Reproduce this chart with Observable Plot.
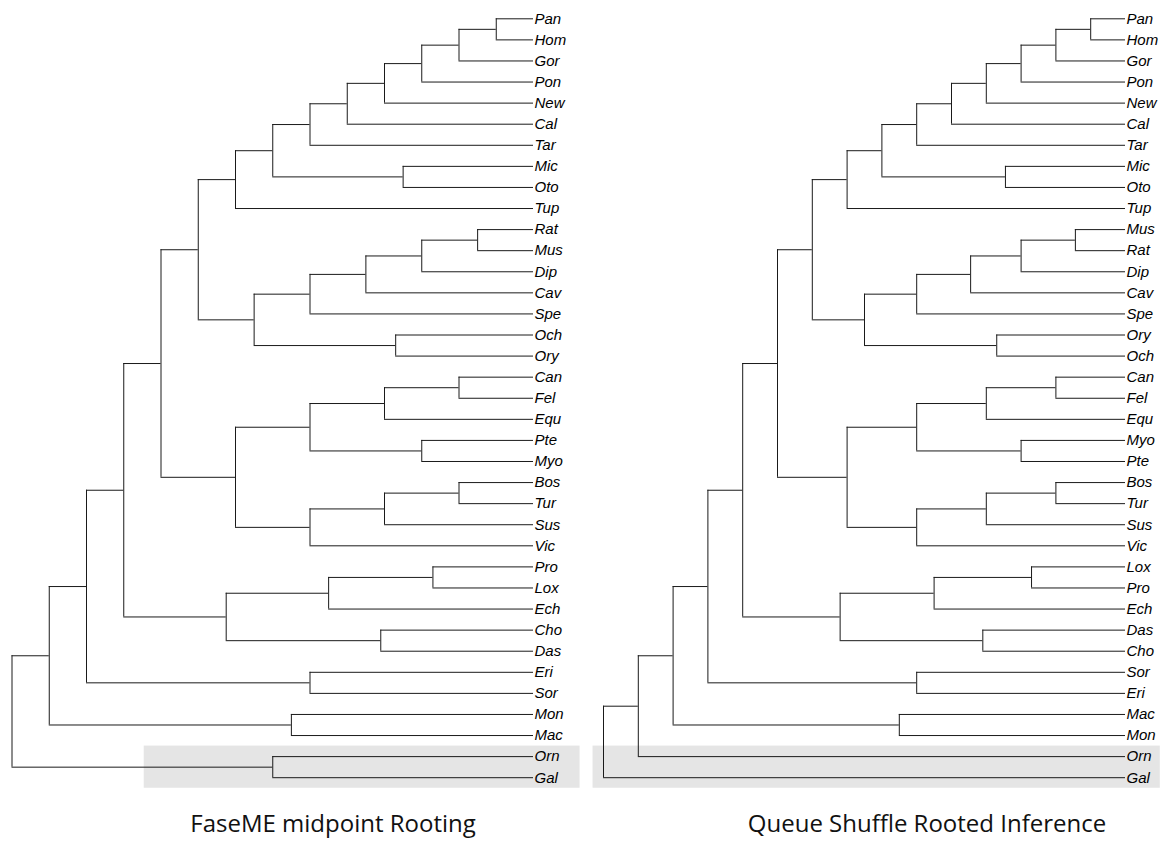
<!DOCTYPE html>
<html><head><meta charset="utf-8">
<script src="https://cdn.jsdelivr.net/npm/d3@7"></script>
<script src="https://cdn.jsdelivr.net/npm/@observablehq/plot@0.6"></script>
<style>
body{margin:0;background:#fff;}
#wrap{position:relative;width:1164px;height:843px;overflow:hidden;}
.panel{position:absolute;top:0;}
.title{position:absolute;font-family:"Open Sans",sans-serif;font-size:24px;line-height:24px;color:#111;white-space:nowrap;transform:translateX(-50%);}
</style></head><body><div id="wrap"></div>
<script>
// Trees in Newick form; the number after ":" is the node's depth (level from the root).
const leftTree = "((((((((((((((((Pan,Hom):13,Gor):12,Pon):11,New):10,Cal):9,Tar):8,(Mic,Oto):10.5):7,Tup):6,(((((Rat,Mus):12.5,Dip):11,Cav):9.5,Spe):8,(Och,Ory):10.3):6.5):5,((((Can,Fel):12,Equ):10,(Pte,Myo):11):8,(((Bos,Tur):12,Sus):10,Vic):8):6):4,(((Pro,Lox):11.3,Ech):8.5,(Cho,Das):9.9):5.75):3,(Eri,Sor):8):2,(Mon,Mac):7.5):1,(Orn,Gal):7):0";
const rightTree = "(((((((((((((((((Pan,Hom):14,Gor):13,Pon):12,New):11,Cal):10,Tar):9,(Mic,Oto):11.55):8,Tup):7,(((((Mus,Rat):13.56,Dip):12,Cav):10.55,Spe):9,(Ory,Och):11.3):7.5):6,((((Can,Fel):13,Equ):11,(Myo,Pte):12):9,(((Bos,Tur):13,Sus):11,Vic):9):7):5,(((Lox,Pro):12.3,Ech):9.5,(Das,Cho):10.9):6.8):4,(Sor,Eri):9):3,(Mac,Mon):8.5):2,Orn):1,Gal):0";
const tipDepths = [14, 15];
const titles = ["FaseME midpoint Rooting", "Queue Shuffle Rooted Inference"];
const highlightTips = ["Orn", "Gal"];
const highlightDepthSpan = [[3.55, 15.25], [-0.3, 16.0]];

function parseNewick(s) {
  let i = 0;
  function node() {
    const n = {};
    if (s[i] === "(") {
      i++;
      n.children = [node()];
      while (s[i] === ",") { i++; n.children.push(node()); }
      i++;
    } else {
      const st = i;
      while (i < s.length && !",):;".includes(s[i])) i++;
      n.name = s.slice(st, i);
    }
    if (s[i] === ":") {
      i++;
      const st = i;
      while (i < s.length && !",);".includes(s[i])) i++;
      n.depth = +s.slice(st, i);
    }
    return n;
  }
  return node();
}

function layout(newick, tipDepth) {
  const root = parseNewick(newick);
  const tips = [], horiz = [], vert = [];
  let k = 0;
  (function place(n) {
    if (!n.children) { n.depth = tipDepth; n.y = k++; tips.push({name: n.name, x: n.depth, y: n.y}); return; }
    n.children.forEach(place);
    n.y = d3.mean(n.children, c => c.y);
    vert.push({x: n.depth, y1: n.children[0].y, y2: n.children[n.children.length - 1].y});
    n.children.forEach(c => horiz.push({x1: n.depth, x2: c.depth, y: c.y}));
  })(root);
  return {tips, horiz, vert};
}

const panels = [
  {tree: leftTree, left: 0, xr: [11.5, 533], titleX: 333},
  {tree: rightTree, left: 582, xr: [21, 543], titleX: 927 - 582}
];

const wrap = document.getElementById("wrap");
panels.forEach((p, idx) => {
  const L = layout(p.tree, tipDepths[idx]);
  const idxOf = name => L.tips.find(t => t.name === name).y;
  const hy = highlightTips.map(idxOf);
  const box = [{x1: highlightDepthSpan[idx][0], x2: highlightDepthSpan[idx][1], y1: d3.min(hy) - 0.5, y2: d3.max(hy) + 0.5}];
  const chart = Plot.plot({
    width: 582,
    height: 795,
    x: {domain: [0, tipDepths[idx]], range: p.xr, axis: null},
    y: {domain: [0, L.tips.length - 1], range: [18.3, 777.2], axis: null},
    style: {background: "transparent", overflow: "visible"},
    marks: [
      Plot.rect(box, {x1: "x1", x2: "x2", y1: "y1", y2: "y2", fill: "#e5e5e5"}),
      Plot.ruleY(L.horiz, {x1: "x1", x2: "x2", y: "y", stroke: "#1a1a1a", strokeWidth: 1}),
      Plot.ruleX(L.vert, {x: "x", y1: "y1", y2: "y2", stroke: "#1a1a1a", strokeWidth: 1}),
      Plot.text(L.tips, {x: "x", y: "y", text: "name", textAnchor: "start", dx: 1,
        fontSize: 15, fontStyle: "italic", fontFamily: "'Liberation Sans', Arial, sans-serif", fill: "#000"})
    ]
  });
  const div = document.createElement("div");
  div.className = "panel";
  div.style.left = p.left + "px";
  div.appendChild(chart);
  wrap.appendChild(div);
  const t = document.createElement("div");
  t.className = "title";
  t.textContent = titles[idx];
  t.style.left = (p.left + p.titleX) + "px";
  t.style.top = "811px";
  wrap.appendChild(t);
});
</script></body></html>
